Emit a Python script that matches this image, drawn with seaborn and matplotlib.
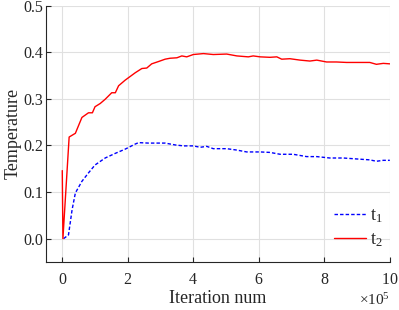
import matplotlib

matplotlib.use("Agg")

import matplotlib.pyplot as plt
import numpy as np
import pandas as pd
import seaborn as sns
from matplotlib.ticker import ScalarFormatter

# iteration values in units of 1e5
t2_iter = [0, 0.02, 0.21, 0.4, 0.6, 0.8, 0.92, 1.0, 1.16, 1.31, 1.51, 1.62, 1.72, 1.92,
           2.23, 2.43, 2.58, 2.73, 2.94, 3.14, 3.29, 3.5, 3.65, 3.8, 4.0, 4.31, 4.61,
           5.02, 5.33, 5.68, 5.83, 6.04, 6.34, 6.55, 6.7, 6.95, 7.26, 7.56, 7.77, 8.07,
           8.37, 8.68, 8.98, 9.39, 9.59, 9.8, 10.0]
t2_temp = [0.146, 0.0, 0.218, 0.226, 0.26, 0.27, 0.27, 0.283, 0.29, 0.299, 0.313, 0.313,
           0.328, 0.34, 0.356, 0.365, 0.366, 0.375, 0.38, 0.385, 0.387, 0.388, 0.392,
           0.39, 0.395, 0.397, 0.395, 0.396, 0.392, 0.39, 0.392, 0.39, 0.389, 0.39,
           0.385, 0.386, 0.383, 0.381, 0.383, 0.379, 0.379, 0.378, 0.378, 0.378, 0.374,
           0.376, 0.375]

t1_iter = [0.04, 0.19, 0.3, 0.4, 0.6, 0.8, 1.0, 1.31, 1.62, 1.92, 2.23, 2.33, 2.63, 3.14,
           3.45, 3.7, 4.0, 4.21, 4.41, 4.61, 5.02, 5.33, 5.63, 6.04, 6.34, 6.65, 7.05,
           7.46, 7.77, 8.17, 8.58, 8.98, 9.39, 9.59, 9.8, 10.0]
t1_temp = [0.0, 0.008, 0.062, 0.098, 0.123, 0.141, 0.158, 0.173, 0.183, 0.192, 0.203,
           0.206, 0.205, 0.205, 0.201, 0.199, 0.199, 0.196, 0.198, 0.193, 0.193, 0.19,
           0.186, 0.186, 0.185, 0.181, 0.181, 0.176, 0.176, 0.173, 0.173, 0.171, 0.169,
           0.166, 0.168, 0.168]

x_ticks = [0, 2, 4, 6, 8, 10]
y_ticks = [0, 0.1, 0.2, 0.3, 0.4, 0.5]

sns.set_style("white")
plt.rcParams["font.family"] = ["Liberation Serif", "DejaVu Serif"]
plt.rcParams["mathtext.fontset"] = "stix"
plt.rcParams["mathtext.default"] = "regular"

INK = "#262626"

t1 = pd.DataFrame({"iter": np.array(t1_iter) * 1e5, "temp": t1_temp})
t2 = pd.DataFrame({"iter": np.array(t2_iter) * 1e5, "temp": t2_temp})

fig = plt.figure(figsize=(3.99, 3.10), dpi=100)
ax = fig.add_axes([0.115, 0.155, 0.862, 0.827])

sns.lineplot(data=t1, x="iter", y="temp", sort=False, color="#0000ff", linewidth=1.0,
             linestyle=(0, (2.5, 1.5)), label="t$_1$", ax=ax)
sns.lineplot(data=t2, x="iter", y="temp", sort=False, color="#ff0000", linewidth=1.0,
             label="t$_2$", ax=ax)

ax.set_xlim(-0.5e5, 10e5)
ax.set_ylim(-0.05, 0.5)
ax.set_xticks(np.array(x_ticks) * 1e5)
ax.set_yticks(y_ticks)
fmt = ScalarFormatter(useMathText=True)
fmt.set_powerlimits((5, 5))
ax.xaxis.set_major_formatter(fmt)
ax.xaxis.get_offset_text().set_fontsize(11)
ax.xaxis.get_offset_text().set_color(INK)

ax.grid(True, color="#e0e0e0", linewidth=0.8)
ax.set_axisbelow(True)
sns.despine(ax=ax)
for side in ["left", "bottom"]:
    ax.spines[side].set_color(INK)
    ax.spines[side].set_linewidth(0.8)
ax.tick_params(direction="in", length=3.5, width=0.8, colors=INK, labelsize=11.5,
               left=True, bottom=True)
ax.tick_params(axis="x", pad=7)
ax.tick_params(axis="y", pad=2)

ax.set_xlabel("Iteration num", fontsize=13, color=INK, labelpad=2)
ax.set_ylabel("Temperature", fontsize=13, color=INK, labelpad=1)

ax.legend(loc="lower right", frameon=False, fontsize=13, handlelength=1.8,
          handletextpad=0.2, labelspacing=0.35, borderaxespad=0.3,
          bbox_to_anchor=(1.015, 0.0))

fig.savefig("out.png", dpi=100)
